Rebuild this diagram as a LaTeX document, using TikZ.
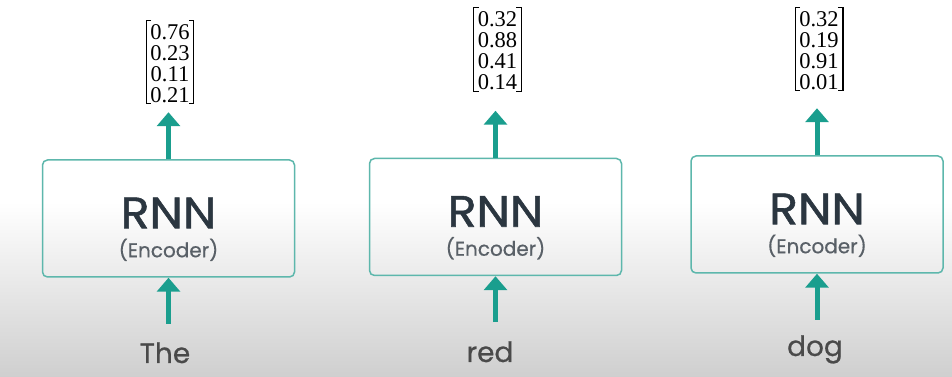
\documentclass[tikz,border=0pt]{standalone}
\usepackage{fontspec}
\setmainfont{Liberation Serif}
\newfontfamily\uifont[FakeBold=0.6]{Poppins}
\newfontfamily\rnnfont[FakeBold=1.2,FakeStretch=1.08]{Poppins}
\usetikzlibrary{arrows.meta,calc}
\definecolor{tealarrow}{HTML}{1A9E8E}
\definecolor{boxline}{HTML}{5DB7AC}
\definecolor{rnncol}{HTML}{2B3640}
\definecolor{enccol}{HTML}{596067}
\definecolor{wordcol}{HTML}{4A4A4A}
\definecolor{bggray}{HTML}{CFCFCF}
\begin{document}
\begin{tikzpicture}[x=1pt,y=1pt,
  rnnbox/.style={draw=boxline, line width=1.5pt, rounded corners=5pt,
    minimum width=252pt, minimum height=117pt, inner sep=0pt},
  rnnlabel/.style={font=\rnnfont\fontsize{44}{48}\selectfont, text=rnncol, inner sep=0pt, anchor=base},
  enclabel/.style={font=\uifont\fontsize{20}{22}\selectfont, text=enccol, inner sep=0pt, anchor=base},
  word/.style={font=\uifont\fontsize{28}{30}\selectfont, text=wordcol, inner sep=0pt, anchor=base},
  vec/.style={font=\fontsize{22.5}{21}\selectfont, align=center, inner sep=0pt, text=black},
  brk/.style={line width=1.2pt, black},
  flow/.style={tealarrow, line width=5pt, -{Triangle[width=23pt,length=14pt]}}
]
\useasboundingbox (0,0) rectangle (952,377);
\fill[white] (0,0) rectangle (952,377);
\shade[top color=white, bottom color=bggray] (0,0) rectangle (952,175);

% boxes
\node[rnnbox] (b1) at (168.5,158.5) {};
\node[rnnbox] (b2) at (495.5,160) {};
\node[rnnbox] (b3) at (817,162.5) {};

\foreach \b in {b1,b2,b3}{
  \node[rnnlabel] (r\b) at ($(\b.north)+(0,-69)$) {RNN};
  \node[enclabel] (e\b) at ($(\b.north)+(0,-98)$) {(Encoder)};
}

% vectors
\node[vec] (v1) at (170,313.5) {0.76\\0.23\\0.11\\0.21};
\node[vec] (v2) at (497.5,326) {0.32\\0.88\\0.41\\0.14};
\node[vec] (v3) at (819,326.5) {0.32\\0.19\\0.91\\0.01};
\foreach \v in {v1,v2,v3}{
  \draw[brk] ($(\v.north west)+(1,4)$) -- ++(-5,0) |- ($(\v.south west)+(1,-1)$);
  \draw[brk] ($(\v.north east)+(-1,4)$) -- ++(5,0) |- ($(\v.south east)+(-1,-1)$);
}

% words
\node[word] (w1) at (165,14) {The};
\node[word] (w2) at (490,15) {red};
\node[word] (w3) at (815,21) {dog};

% arrows
\foreach \b in {b1,b2,b3}{
  \coordinate (t\b) at ($(\b.north)+(0,47)$);
  \coordinate (s\b) at ($(\b.south)+(0,-46)$);
  \draw[flow] (\b.north) -- (t\b);
  \draw[flow] (s\b) -- (\b.south);
}
\end{tikzpicture}
\end{document}
